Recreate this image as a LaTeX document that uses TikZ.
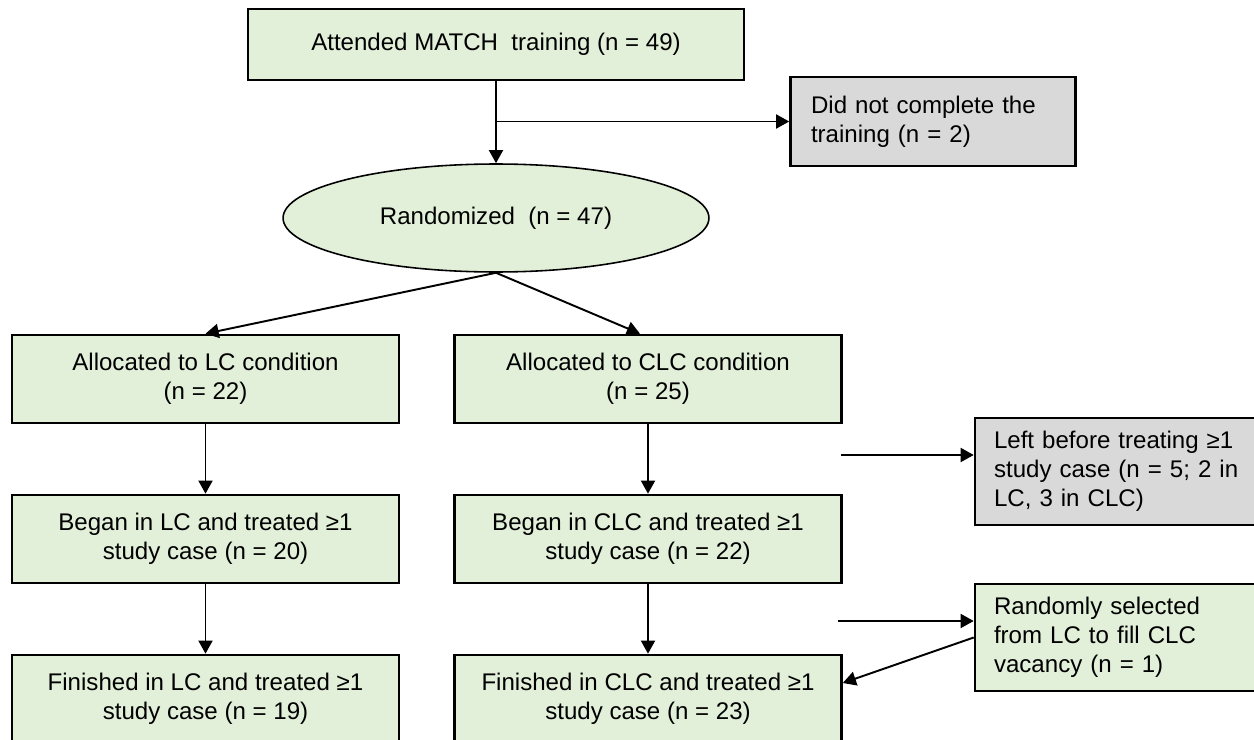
\documentclass[tikz,border=0pt]{standalone}
\usepackage{fontspec}
\setmainfont{Liberation Sans}
\usetikzlibrary{shapes.geometric,arrows.meta}
\definecolor{boxgreen}{HTML}{E2EFD9}
\definecolor{boxgrey}{HTML}{D9D9D9}

\begin{document}
\begin{tikzpicture}[x=0.02cm,y=-0.02cm,
		font=\fontsize{13.7}{16.4}\selectfont,
		stagebox/.style={draw,line width=1.5pt,fill=boxgreen,minimum width=7.74cm,minimum height=1.76cm,align=center,inner sep=0pt},
		sidebox/.style={draw,line width=1.5pt,fill=#1,minimum width=5.7cm,minimum height=2.14cm,text width=4.94cm,align=left,inner xsep=0.38cm,inner ysep=0pt},
		flowarr/.style={line width=1.1pt,-{Triangle[length=7.5pt,width=8pt]}}]
			\useasboundingbox (0,0) rectangle (1254,740);
			\clip (0,0) rectangle (1254,740);
			
			\node[stagebox,minimum width=9.92cm,minimum height=1.42cm] (train) at (496,44.5) {Attended MATCH\ \ training (n = 49)};
			\node[sidebox=boxgrey,minimum height=1.78cm,text width=4.88cm] (notdone) at (933,121.5) {Did not complete the\\training (n = 2)};
			
			\node[ellipse,draw,line width=0.9pt,fill=boxgreen,minimum width=8.52cm,minimum height=2.16cm] (rand) at (496,218) {Randomized\ \ (n = 47)};
			
			\node[stagebox] (lc) at (205.5,379) {Allocated to LC condition\\(n = 22)};
			\node[stagebox] (clc) at (648,379) {Allocated to CLC condition\\(n = 25)};
			\node[stagebox] (lcbegan) at (205.5,539) {Began in LC and treated ≥1\\study case (n = 20)};
			\node[stagebox] (clcbegan) at (648,539) {Began in CLC and treated ≥1\\study case (n = 22)};
			\node[stagebox] (lcfin) at (205.5,699) {Finished in LC and treated ≥1\\study case (n = 19)};
			\node[stagebox] (clcfin) at (648,699) {Finished in CLC and treated ≥1\\study case (n = 23)};
			
			\node[sidebox=boxgrey] (left) at (1117.5,471.5) {Left before treating ≥1\\study case (n = 5; 2 in\\LC, 3 in CLC)};
			\node[sidebox=boxgreen] (swap) at (1117.5,637.5) {Randomly selected\\from LC to fill CLC\\vacancy (n = 1)};
			
			\coordinate (split) at (train.south |- notdone.west);
			\coordinate (leftin) at (841,455);
			\coordinate (swapin) at (838,621);
			
			\draw[flowarr] (train) -- (rand);
			\draw[flowarr] (split) -- (notdone.west);
			\draw[flowarr] (rand.south) -- (lc.north);
			\draw[flowarr] (rand.south) -- ([xshift=-0.16cm]clc.north);
			
			\draw[flowarr] (lc) -- (lcbegan);
			\draw[flowarr] (clc) -- (clcbegan);
			\draw[flowarr] (lcbegan) -- (lcfin);
			\draw[flowarr] (clcbegan) -- (clcfin);
			
			\draw[flowarr] (leftin) -- (leftin -| left.west);
			\draw[flowarr] (swapin) -- (swapin -| swap.west);
			\draw[flowarr] (swap.west) -- ([yshift=0.32cm]clcfin.east);
			
		\end{tikzpicture}
\end{document}
